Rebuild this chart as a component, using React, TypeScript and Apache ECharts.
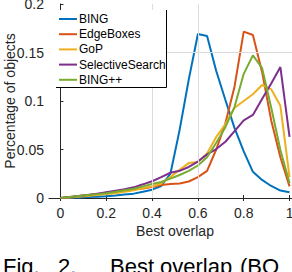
import React, { useEffect, useRef } from 'react';
import * as echarts from 'echarts';

const overlap = [0, 0.04, 0.08, 0.12, 0.16, 0.2, 0.24, 0.28, 0.32, 0.36, 0.4, 0.44, 0.48, 0.52, 0.56, 0.6, 0.64, 0.68, 0.72, 0.76, 0.8, 0.84, 0.88, 0.92, 0.96, 1.0];
const bing = [0, 0.0003, 0.0006, 0.001, 0.0013, 0.0018, 0.0025, 0.0035, 0.0045, 0.0065, 0.0086, 0.0124, 0.025, 0.07, 0.122, 0.169, 0.167, 0.131, 0.101, 0.072, 0.048, 0.027, 0.0186, 0.0124, 0.0077, 0.006];
const edgeBoxes = [0, 0.0008, 0.002, 0.003, 0.004, 0.0055, 0.0065, 0.0075, 0.0088, 0.0098, 0.0113, 0.0134, 0.0144, 0.015, 0.017, 0.0216, 0.028, 0.05, 0.077, 0.115, 0.1715, 0.168, 0.13, 0.08, 0.042, 0.012];
const gop = [0, 0.0005, 0.0012, 0.002, 0.003, 0.004, 0.005, 0.0065, 0.008, 0.0103, 0.0119, 0.015, 0.0216, 0.029, 0.036, 0.037, 0.046, 0.063, 0.076, 0.093, 0.1, 0.107, 0.1165, 0.112, 0.095, 0.0216];
const selectiveSearch = [0, 0.001, 0.002, 0.003, 0.0045, 0.006, 0.0075, 0.009, 0.011, 0.0141, 0.0173, 0.0216, 0.026, 0.028, 0.032, 0.0376, 0.045, 0.0505, 0.058, 0.069, 0.08, 0.0856, 0.102, 0.118, 0.135, 0.063];
const bingPlusPlus = [0, 0.001, 0.002, 0.003, 0.004, 0.005, 0.0065, 0.008, 0.0095, 0.012, 0.0144, 0.0165, 0.02, 0.0237, 0.028, 0.0335, 0.042, 0.057, 0.073, 0.094, 0.128, 0.147, 0.134, 0.093, 0.0495, 0.0155];

const seriesNames = ['BING', 'EdgeBoxes', 'GoP', 'SelectiveSearch', 'BING++'];
const seriesValues = [bing, edgeBoxes, gop, selectiveSearch, bingPlusPlus];
const seriesColors = ['#0072BD', '#D95319', '#EDB120', '#7E2F8E', '#77AC30'];
const xTicks = [0, 0.2, 0.4, 0.6, 0.8, 1];
const refX = [0.4, 0.6];
const refY = [0.15];
const captionWords = ['Fig.', '2.', 'Best', 'overlap', '(BO'];

const FONT = '"Liberation Sans", Arial, Helvetica, sans-serif';

export default function App() {
  const ref = useRef<HTMLDivElement>(null);
  useEffect(() => {
    if (!ref.current) return;
    const chart = echarts.init(ref.current, null, { renderer: 'svg' });
    const axisColor = '#262626';
    const g: any[] = [];
    g.push({
      type: 'rect', z: 10, shape: { x: 50, y: 10, width: 116, height: 77 }, style: { fill: '#fff' }
    });
    g.push({
      type: 'polyline', z: 11, shape: { points: [[56, 87.5], [166.5, 87.5], [166.5, 10]] },
      style: { stroke: '#000', lineWidth: 1, fill: null }
    });
    seriesNames.forEach((n, i) => {
      const y = 19 + i * 15.2;
      g.push({
        type: 'line', z: 11, shape: { x1: 59, y1: y, x2: 77, y2: y },
        style: { stroke: seriesColors[i], lineWidth: 2 }
      });
      g.push({
        type: 'text', z: 11, x: 79, y: y,
        style: { text: n, fill: '#000', fontSize: 12, fontFamily: FONT, verticalAlign: 'middle', align: 'left' }
      });
    });
    const captionX = [3, 58, 110, 160, 240];
    captionWords.forEach((w, i) => {
      g.push({
        type: 'text', z: 11, x: captionX[i], y: 255,
        style: { text: w, fill: '#000', fontSize: 22, fontFamily: FONT, verticalAlign: 'top', align: 'left' }
      });
    });

    const lineSeries: any[] = seriesNames.map((n, i) => ({
      type: 'line',
      name: n,
      data: overlap.map((x, j) => [x, seriesValues[i][j]]),
      symbol: 'none',
      z: 3,
      lineStyle: { color: seriesColors[i], width: 2 },
      itemStyle: { color: seriesColors[i] },
    }));
    lineSeries.unshift({
      type: 'line',
      name: 'ref',
      data: [],
      z: 1,
      symbol: 'none',
      markLine: {
        silent: true,
        symbol: 'none',
        label: { show: false },
        lineStyle: { color: '#dcdcdc', width: 1, type: 'solid' },
        data: [...refX.map((v) => ({ xAxis: v })), ...refY.map((v) => ({ yAxis: v }))],
      },
    });

    chart.setOption({
      animation: false,
      grid: { left: 49, top: 4, right: 9, bottom: 74, outerBoundsMode: 'none', containLabel: false },
      xAxis: [
        {
          type: 'value', min: -0.05, max: 1.05, position: 'bottom',
          axisLine: { show: true, onZero: false, lineStyle: { color: axisColor, width: 1 } },
          axisTick: { show: true, inside: true, length: 3, customValues: xTicks, lineStyle: { color: axisColor } },
          axisLabel: { customValues: xTicks, margin: 8, color: axisColor, fontSize: 14, fontFamily: FONT, formatter: (v: number) => String(+v.toFixed(2)) },
          splitLine: { show: false },
          name: 'Best overlap', nameLocation: 'middle', nameGap: 26, nameMoveOverlap: false,
          nameTextStyle: { color: axisColor, fontSize: 14, fontFamily: FONT },
        },
        {
          type: 'value', min: -0.05, max: 1.05, position: 'top',
          axisLine: { show: false },
          axisTick: { show: true, inside: true, length: 3, customValues: xTicks, lineStyle: { color: axisColor } },
          axisLabel: { show: false },
          splitLine: { show: false },
        },
      ],
      yAxis: {
        type: 'value', min: 0, max: 0.2, interval: 0.05,
        axisLine: { show: true, lineStyle: { color: axisColor, width: 1 } },
        axisTick: { show: true, inside: true, length: 3, lineStyle: { color: axisColor } },
        axisLabel: { margin: 5, color: axisColor, fontSize: 14, fontFamily: FONT, hideOverlap: false, formatter: (v: number) => String(+v.toFixed(2)) },
        splitLine: { show: false },
        name: 'Percentage of objects', nameLocation: 'middle', nameGap: 32, nameRotate: 90, nameMoveOverlap: false,
        nameTextStyle: { color: axisColor, fontSize: 14, fontFamily: FONT },
      },
      series: lineSeries,
      graphic: g,
    });
    return () => chart.dispose();
  }, []);
  return (
    <div style={{ position: 'fixed', left: 0, top: 0, width: 292, height: 272, overflow: 'hidden', background: '#fff' }}>
      <div ref={ref} style={{ width: 310, height: 272 }} />
    </div>
  );
}
